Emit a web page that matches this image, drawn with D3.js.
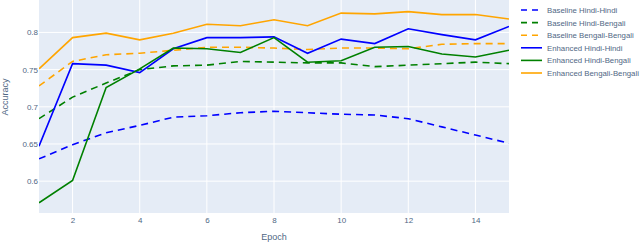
<!DOCTYPE html>
<html>
<head>
<meta charset="utf-8">
<script src="https://cdn.jsdelivr.net/npm/d3@7"></script>
<style>
body { margin:0; background:#fff; }
text { font-family: "Liberation Sans", Arial, sans-serif; }
</style>
</head>
<body>
<svg id="chart"></svg>
<script>
var epochs = [1,2,3,4,5,6,7,8,9,10,11,12,13,14,15];
var baseHindiHindi = [0.630,0.649,0.665,0.675,0.686,0.688,0.692,0.694,0.692,0.690,0.689,0.684,0.673,0.662,0.651];
var baseHindiBengali = [0.684,0.713,0.732,0.750,0.755,0.756,0.761,0.760,0.759,0.759,0.754,0.756,0.758,0.760,0.758];
var baseBengaliBengali = [0.728,0.761,0.770,0.772,0.776,0.780,0.780,0.779,0.777,0.779,0.779,0.778,0.784,0.785,0.785];
var enhHindiHindi = [0.647,0.758,0.756,0.746,0.778,0.793,0.793,0.794,0.772,0.791,0.785,0.805,0.797,0.790,0.808];
var enhHindiBengali = [0.571,0.601,0.726,0.751,0.779,0.778,0.773,0.793,0.760,0.762,0.780,0.781,0.771,0.767,0.776];
var enhBengaliBengali = [0.751,0.793,0.799,0.790,0.799,0.811,0.809,0.817,0.809,0.826,0.825,0.828,0.824,0.824,0.818];
var xTicks = [2,4,6,8,10,12,14];
var yTicks = [0.6,0.65,0.7,0.75,0.8];

var series = [
    {name:"Baseline Hindi-Hindi", values:baseHindiHindi, color:"#0000ff", dash:true},
    {name:"Baseline Hindi-Bengali", values:baseHindiBengali, color:"#008000", dash:true},
    {name:"Baseline Bengali-Bengali", values:baseBengaliBengali, color:"#ffa500", dash:true},
    {name:"Enhanced Hindi-Hindi", values:enhHindiHindi, color:"#0000ff", dash:false},
    {name:"Enhanced Hindi-Bengali", values:enhHindiBengali, color:"#008000", dash:false},
    {name:"Enhanced Bengali-Bengali", values:enhBengaliBengali, color:"#ffa500", dash:false}
];

var screen = {width:640, height:243};
var margins = {top:0, bottom:30, left:39, right:131};
var graph = {
    width: screen.width-margins.left-margins.right,
    height: screen.height-margins.top-margins.bottom
};

var svg = d3.select("#chart")
    .attr("width",screen.width)
    .attr("height",screen.height);

var xScale = d3.scaleLinear()
    .domain([1,15])
    .range([0,graph.width]);

var yScale = d3.scaleLinear()
    .domain([0.5572,0.8436])
    .range([graph.height,0]);

var g = svg.append("g")
    .attr("transform","translate("+margins.left+","+margins.top+")");

g.append("rect")
    .attr("width",graph.width)
    .attr("height",graph.height)
    .attr("fill","#e5ecf6");

// gridlines
g.selectAll(".xgrid")
    .data(xTicks)
    .enter()
    .append("line")
    .attr("x1",function(d){return xScale(d)})
    .attr("x2",function(d){return xScale(d)})
    .attr("y1",0)
    .attr("y2",graph.height)
    .attr("stroke","#fff")
    .attr("stroke-width",1);

g.selectAll(".ygrid")
    .data(yTicks)
    .enter()
    .append("line")
    .attr("x1",0)
    .attr("x2",graph.width)
    .attr("y1",function(d){return yScale(d)})
    .attr("y2",function(d){return yScale(d)})
    .attr("stroke","#fff")
    .attr("stroke-width",1);

// axes
var xAxis = d3.axisBottom(xScale).tickValues(xTicks).tickSize(0).tickPadding(4);
var yAxis = d3.axisLeft(yScale).tickValues(yTicks).tickSize(0).tickPadding(1)
    .tickFormat(function(d){return d3.format("")(+d.toFixed(2))});

var xa = g.append("g")
    .attr("transform","translate(0,"+graph.height+")")
    .call(xAxis);
var ya = g.append("g").call(yAxis);
[xa,ya].forEach(function(a){
    a.select(".domain").remove();
    a.selectAll("text")
        .attr("fill","#506784")
        .style("font-family","'Liberation Sans', Arial, sans-serif")
        .style("font-size","8px");
});

// lines
var lineGenerator = d3.line()
    .x(function(d,i){return xScale(epochs[i])})
    .y(function(d){return yScale(d)});

g.append("defs").append("clipPath")
    .attr("id","clip")
    .append("rect")
    .attr("width",graph.width)
    .attr("height",graph.height);

g.append("g")
    .attr("clip-path","url(#clip)")
    .selectAll("path")
    .data(series)
    .enter()
    .append("path")
    .attr("d",function(s){return lineGenerator(s.values)})
    .attr("fill","none")
    .attr("stroke",function(s){return s.color})
    .attr("stroke-width",1.6)
    .attr("stroke-dasharray",function(s){return s.dash ? "7,5" : null});

// labels
svg.append("text")
    .text("Epoch")
    .attr("text-anchor","middle")
    .attr("x",margins.left+graph.width/2)
    .attr("y",240)
    .attr("fill","#506784")
    .style("font-size","9px");

svg.append("text")
    .text("Accuracy")
    .attr("text-anchor","middle")
    .attr("transform","translate(8,97) rotate(-90)")
    .attr("fill","#506784")
    .style("font-size","9px");

// legend
var legend = svg.append("g")
    .attr("transform","translate(521,10)");

var items = legend.selectAll("g")
    .data(series)
    .enter()
    .append("g")
    .attr("transform",function(s,i){return "translate(0,"+(i*12.6)+")"});

items.append("line")
    .attr("x1",0)
    .attr("x2",21)
    .attr("y1",0)
    .attr("y2",0)
    .attr("stroke",function(s){return s.color})
    .attr("stroke-width",1.6)
    .attr("stroke-dasharray",function(s){return s.dash ? "6,5" : null});

items.append("text")
    .text(function(s){return s.name})
    .attr("x",26)
    .attr("y",3)
    .attr("fill","#506784")
    .style("font-size","7.8px");
</script>
</body>
</html>
